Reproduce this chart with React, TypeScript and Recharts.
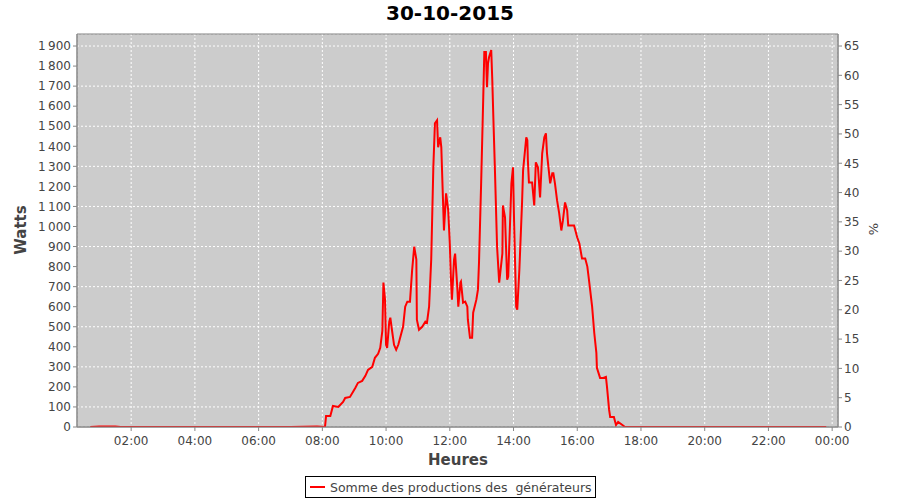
import React from 'react';
import {
  LineChart, Line, XAxis, YAxis, CartesianGrid, ReferenceArea,
} from 'recharts';

// minutes since midnight
const minutes = [
  43, 60, 90, 100, 120, 180, 240, 300, 360, 420, 470, 485,
  487, 495, 500, 510, 519, 523, 532, 542, 547, 555, 561, 566,
  574, 579, 585, 589, 593, 595, 598, 600, 602, 606, 608, 611,
  615, 619, 623, 628, 632, 636, 640, 645, 649, 653, 657, 658,
  662, 668, 674, 677, 681, 685, 689, 692, 696, 698, 702, 704,
  709, 713, 717, 720, 722, 724, 728, 730, 734, 736, 740, 741,
  745, 749, 753, 754, 758, 762, 764, 770, 773, 775, 779, 783,
  785, 788, 790, 792, 794, 798, 800, 802, 805, 809, 813, 819,
  820, 824, 828, 830, 836, 839, 841, 845, 847, 851, 856, 858,
  864, 866, 867, 869, 875, 879, 882, 886, 890, 894, 898, 901,
  903, 909, 913, 915, 918, 922, 926, 930, 933, 937, 941, 943,
  950, 954, 960, 964, 969, 975, 979, 982, 988, 992, 996, 997,
  1003, 1009, 1014, 1016, 1020, 1022, 1029, 1033, 1037, 1045, 1050, 1080,
  1140, 1200, 1260, 1320, 1380, 1429,
];

const watts = [
  0, 3, 3, 0, 0, 0, 0, 0, 0, 0, 3, 0,
  55, 55, 105, 100, 125, 145, 150, 195, 220, 230, 255, 285,
  300, 345, 365, 395, 480, 720, 635, 410, 395, 525, 545, 485,
  410, 385, 410, 460, 500, 600, 625, 625, 780, 900, 835, 535,
  485, 500, 525, 520, 600, 835, 1297, 1515, 1530, 1395, 1445, 1395,
  980, 1165, 1080, 915, 750, 635, 835, 865, 700, 600, 720, 725,
  620, 625, 600, 535, 445, 445, 570, 635, 685, 820, 1215, 1645,
  1870, 1870, 1695, 1815, 1845, 1880, 1730, 1545, 1280, 900, 720, 865,
  1105, 1045, 735, 750, 1215, 1295, 1030, 600, 585, 785, 1115, 1280,
  1445, 1430, 1330, 1220, 1220, 1105, 1320, 1295, 1145, 1365, 1445, 1465,
  1365, 1215, 1265, 1265, 1215, 1130, 1065, 980, 1030, 1120, 1080, 1005,
  1005, 1005, 945, 915, 840, 840, 800, 735, 600, 470, 370, 295,
  245, 245, 250, 200, 85, 50, 50, 10, 25, 10, 0, 0,
  0, 0, 0, 0, 0, 0,
];

const hourTicks = [120, 240, 360, 480, 600, 720, 840, 960, 1080, 1200, 1320, 1440];
const wattTicks = [0, 100, 200, 300, 400, 500, 600, 700, 800, 900, 1000, 1100, 1200, 1300, 1400, 1500, 1600, 1700, 1800, 1900];
const pctTicks = [0, 5, 10, 15, 20, 25, 30, 35, 40, 45, 50, 55, 60, 65];

const data = minutes.map((t, i) => ({ t, w: watts[i] }));

if (typeof document !== 'undefined') document.body.style.margin = '0';

const font = 'DejaVu Sans, sans-serif';
const tickStyle = { fontSize: 12, fill: '#444', fontFamily: font };

const fmtHour = (m: number) => {
  const h = Math.floor(m / 60) % 24;
  return `${String(h).padStart(2, '0')}:00`;
};

const fmtWatts = (v: number) =>
  v >= 1000 ? `${Math.floor(v / 1000)}\u202f${String(v % 1000).padStart(3, '0')}` : String(v);

export default function App() {
  return (
    <div style={{ position: 'relative', width: 900, height: 500, background: '#fff', fontFamily: font }}>
      <div style={{ position: 'absolute', top: 1, left: 0, width: 900, textAlign: 'center', fontWeight: 'bold', fontSize: 20, color: '#000' }}>
        30-10-2015
      </div>
      <LineChart width={900} height={500} data={data} margin={{ top: 34, right: 0, bottom: 33, left: 0 }}>
        <CartesianGrid
          yAxisId="left"
          fill="#cccccc"
          stroke="#ffffff"
          strokeDasharray="2 2"
        />
        <XAxis
          dataKey="t"
          type="number"
          domain={[18, 1451]}
          ticks={hourTicks}
          tickFormatter={fmtHour}
          tick={tickStyle}
          tickSize={4}
          tickMargin={5}
          height={40}
          stroke="#888"
          allowDataOverflow
        />
        <YAxis
          yAxisId="left"
          type="number"
          domain={[0, 1960]}
          ticks={wattTicks}
          tickFormatter={fmtWatts}
          tick={tickStyle}
          tickSize={4}
          tickMargin={2}
          width={77}
          stroke="#888"
          allowDataOverflow
        />
        <YAxis
          yAxisId="right"
          orientation="right"
          type="number"
          domain={[0, 67.05]}
          ticks={pctTicks}
          tick={tickStyle}
          tickSize={4}
          tickMargin={2}
          width={62}
          stroke="#888"
          allowDataOverflow
        />
        <ReferenceArea
          yAxisId="left"
          x1={18}
          x2={1451}
          y1={0}
          y2={1960}
          fill="none"
          stroke="#808080"
          strokeWidth={1}
          ifOverflow="visible"
        />
        <Line
          yAxisId="left"
          type="linear"
          dataKey="w"
          stroke="#ff0000"
          strokeWidth={2}
          dot={false}
          isAnimationActive={false}
        />
      </LineChart>
      <div style={{ position: 'absolute', left: 21, top: 230, transform: 'translate(-50%, -50%) rotate(-90deg)', fontWeight: 'bold', fontSize: 15, color: '#444' }}>
        Watts
      </div>
      <div style={{ position: 'absolute', left: 873, top: 229, transform: 'translate(-50%, -50%) rotate(-90deg)', fontSize: 13, color: '#444' }}>
        %
      </div>
      <div style={{ position: 'absolute', left: 0, top: 451, width: 916, textAlign: 'center', fontWeight: 'bold', fontSize: 15, color: '#444' }}>
        Heures
      </div>
      <div style={{ position: 'absolute', left: 305, top: 476, width: 289, height: 20, border: '1px solid #000', display: 'flex', alignItems: 'center', fontSize: 12.5, color: '#444', whiteSpace: 'pre' }}>
        <svg width={22} height={10} style={{ marginLeft: 2 }}>
          <line x1={2} y1={5} x2={17} y2={5} stroke="#ff0000" strokeWidth={2} />
        </svg>
        {'Somme des productions des  générateurs'}
      </div>
    </div>
  );
}
